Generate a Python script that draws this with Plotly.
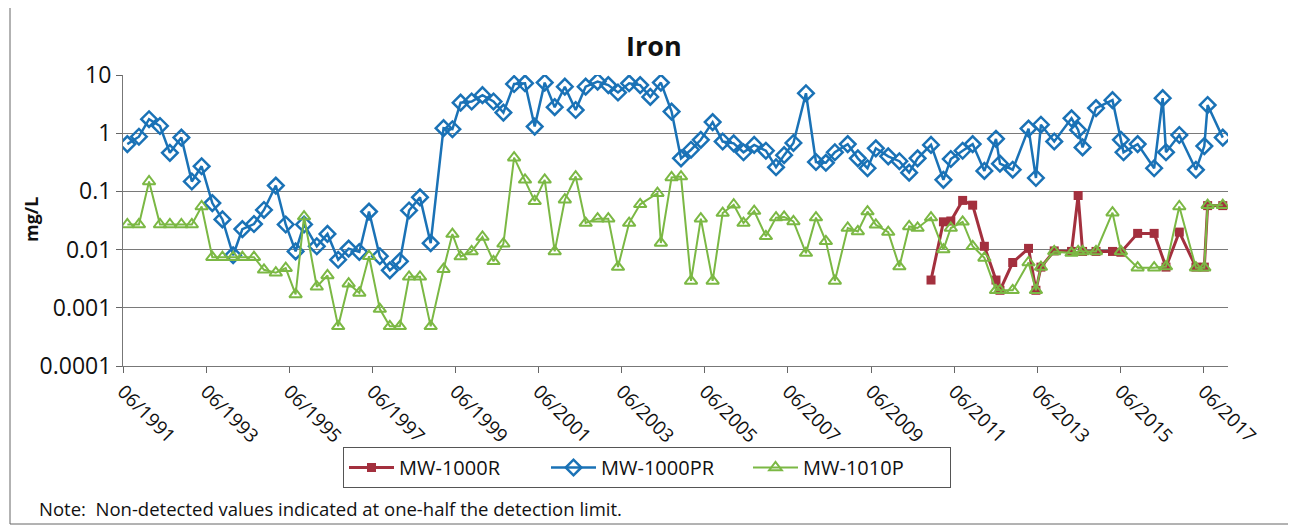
import plotly.graph_objects as go

# ---------------- data ----------------
pr_dates = [
    "1991-07-09", "1991-10-19", "1992-01-16", "1992-04-21", "1992-07-17", "1992-10-26", "1993-01-26", "1993-04-22", "1993-07-25", "1993-10-22",
    "1994-01-24", "1994-04-15", "1994-07-26", "1994-10-22", "1995-02-03", "1995-05-01", "1995-07-27", "1995-10-09", "1996-01-29", "1996-05-02",
    "1996-08-04", "1996-11-04", "1997-02-06", "1997-05-02", "1997-08-05", "1997-11-01", "1998-01-28", "1998-04-19", "1998-07-24", "1998-10-26",
    "1999-02-16", "1999-05-05", "1999-07-16", "1999-10-21", "2000-01-24", "2000-04-30", "2000-07-26", "2000-10-28", "2001-02-01", "2001-04-27",
    "2001-07-24", "2001-10-20", "2002-01-17", "2002-04-22", "2002-07-19", "2002-11-01", "2003-02-03", "2003-04-29", "2003-08-05", "2003-11-10",
    "2004-02-07", "2004-05-10", "2004-08-12", "2004-11-03", "2005-01-30", "2005-04-26", "2005-08-08", "2005-11-04", "2006-02-09", "2006-05-06",
    "2006-08-08", "2006-11-19", "2007-02-16", "2007-04-28", "2007-07-19", "2007-11-06", "2008-02-02", "2008-04-29", "2008-07-17", "2008-11-07",
    "2009-02-04", "2009-04-30", "2009-07-12", "2009-10-29", "2010-02-04", "2010-05-01", "2010-07-14", "2010-11-09", "2011-02-26", "2011-05-02",
    "2011-08-14", "2011-11-10", "2012-02-21", "2012-06-02", "2012-07-07", "2012-10-27", "2013-03-15", "2013-05-19", "2013-07-02", "2013-10-27",
    "2014-03-28", "2014-05-25", "2014-07-03", "2014-10-29", "2015-03-23", "2015-06-05", "2015-06-28", "2015-10-30", "2016-03-23", "2016-06-06",
    "2016-07-05", "2016-10-30", "2017-03-25", "2017-06-07", "2017-07-06", "2017-11-16",
]
pr_values = [
    0.65, 0.87, 1.74, 1.33, 0.46, 0.84, 0.148, 0.27, 0.063, 0.033,
    0.008, 0.0225, 0.0275, 0.048, 0.126, 0.027, 0.0093, 0.027, 0.0114, 0.0186,
    0.0067, 0.0104, 0.0091, 0.045, 0.0077, 0.0044, 0.0063, 0.047, 0.079, 0.0129,
    1.22, 1.17, 3.35, 3.5, 4.5, 3.5, 2.26, 7.0, 7.2, 1.3,
    7.4, 2.8, 6.3, 2.5, 6.3, 7.7, 6.7, 5.0, 7.2, 6.7,
    4.2, 7.4, 2.35, 0.37, 0.52, 0.77, 1.55, 0.72, 0.67, 0.47,
    0.63, 0.50, 0.26, 0.42, 0.68, 4.85, 0.32, 0.31, 0.47, 0.65,
    0.37, 0.25, 0.55, 0.40, 0.33, 0.21, 0.37, 0.63, 0.158, 0.36,
    0.50, 0.65, 0.225, 0.80, 0.30, 0.236, 1.2, 0.17, 1.4, 0.72,
    1.8, 1.14, 0.57, 2.7, 3.7, 0.77, 0.47, 0.65, 0.25, 4.0,
    0.47, 0.93, 0.235, 0.6, 3.05, 0.84,
]

p1010_dates = [
    "1991-07-09", "1991-10-19", "1992-01-16", "1992-04-21", "1992-07-17", "1992-10-26", "1993-01-26", "1993-04-22", "1993-07-25", "1993-10-22",
    "1994-01-24", "1994-04-15", "1994-07-26", "1994-10-22", "1995-02-03", "1995-05-01", "1995-07-27", "1995-10-09", "1996-01-29", "1996-05-02",
    "1996-08-04", "1996-11-04", "1997-02-06", "1997-05-02", "1997-08-05", "1997-11-01", "1998-01-28", "1998-04-19", "1998-07-24", "1998-10-26",
    "1999-02-16", "1999-05-05", "1999-07-16", "1999-10-21", "2000-01-24", "2000-04-30", "2000-07-26", "2000-10-28", "2001-02-01", "2001-04-27",
    "2001-07-24", "2001-10-20", "2002-01-17", "2002-04-22", "2002-07-19", "2002-11-01", "2003-02-03", "2003-04-29", "2003-08-05", "2003-11-10",
    "2004-04-10", "2004-05-10", "2004-08-12", "2004-11-03", "2005-01-30", "2005-04-26", "2005-08-08", "2005-11-04", "2006-02-09", "2006-05-06",
    "2006-08-08", "2006-11-19", "2007-02-16", "2007-04-28", "2007-07-19", "2007-11-06", "2008-02-02", "2008-04-29", "2008-07-17", "2008-11-07",
    "2009-02-04", "2009-04-30", "2009-07-12", "2009-10-29", "2010-02-04", "2010-05-01", "2010-07-14", "2010-11-09", "2011-02-26", "2011-05-02",
    "2011-08-14", "2011-11-10", "2012-02-21", "2012-06-02", "2012-07-07", "2012-10-27", "2013-03-15", "2013-05-19", "2013-07-02", "2013-10-27",
    "2014-03-28", "2014-05-25", "2014-07-03", "2014-10-29", "2015-03-23", "2015-06-05", "2015-10-30", "2016-03-23", "2016-07-05", "2016-10-30",
    "2017-03-25", "2017-06-07", "2017-07-06", "2017-11-16",
]
p1010_values = [
    0.027, 0.027, 0.148, 0.027, 0.027, 0.027, 0.027, 0.055, 0.0074, 0.0074,
    0.0074, 0.0074, 0.0074, 0.0045, 0.004, 0.0048, 0.0017, 0.037, 0.0023, 0.0036,
    0.00048, 0.0026, 0.0018, 0.0077, 0.00095, 0.00048, 0.00048, 0.0034, 0.0034, 0.00048,
    0.0046, 0.0185, 0.0076, 0.0093, 0.0165, 0.0063, 0.0126, 0.38, 0.158, 0.068,
    0.158, 0.0093, 0.072, 0.18, 0.0286, 0.034, 0.034, 0.005, 0.0286, 0.06,
    0.093, 0.013, 0.174, 0.18, 0.0029, 0.034, 0.0029, 0.0425, 0.059, 0.0286,
    0.046, 0.0169, 0.0355, 0.0364, 0.0305, 0.0087, 0.0355, 0.0139, 0.0029, 0.0235,
    0.0205, 0.045, 0.0267, 0.02, 0.0051, 0.025, 0.0235, 0.0355, 0.01, 0.0235,
    0.03, 0.0114, 0.0072, 0.002, 0.002, 0.002, 0.006, 0.002, 0.005, 0.0093,
    0.0087, 0.0093, 0.0093, 0.0093, 0.043, 0.0093, 0.0049, 0.0049, 0.0051, 0.055,
    0.0049, 0.0049, 0.058, 0.058,
]

r_dates = [
    "2010-11-09", "2011-02-26", "2011-05-02", "2011-08-14", "2011-11-10", "2012-02-21", "2012-06-02", "2012-07-07", "2012-10-27", "2013-03-15",
    "2013-05-19", "2013-07-02", "2013-10-27", "2014-03-28", "2014-05-25", "2014-07-03", "2014-10-29", "2015-03-23", "2015-06-05", "2015-10-30",
    "2016-03-23", "2016-07-05", "2016-10-30", "2017-03-25", "2017-06-07", "2017-07-06", "2017-11-16",
]
r_values = [
    0.003, 0.03, 0.031, 0.07, 0.058, 0.0114, 0.003, 0.002, 0.006, 0.0105,
    0.002, 0.005, 0.0095, 0.0093, 0.085, 0.0093, 0.0093, 0.0093, 0.009, 0.019,
    0.019, 0.005, 0.02, 0.005, 0.005, 0.057, 0.057,
]

series_names = ["MW-1000R", "MW-1000PR", "MW-1010P"]
x_tick_dates = ["1991-06-01", "1993-06-01", "1995-06-01", "1997-06-01", "1999-06-01", "2001-06-01", "2003-06-01",
                "2005-06-01", "2007-06-01", "2009-06-01", "2011-06-01", "2013-06-01", "2015-06-01", "2017-06-01"]
x_tick_labels = ["06/1991", "06/1993", "06/1995", "06/1997", "06/1999", "06/2001", "06/2003",
                 "06/2005", "06/2007", "06/2009", "06/2011", "06/2013", "06/2015", "06/2017"]
y_tick_vals = [10, 1, 0.1, 0.01, 0.001, 0.0001]
y_tick_labels = ["10", "1", "0.1", "0.01", "0.001", "0.0001"]

# ---------------- figure ----------------
FONT = "Open Sans"
RED = "#a3303e"
BLUE = "#1a72b6"
GREEN = "#7bb844"

fig = go.Figure()
fig.add_trace(go.Scatter(
    x=r_dates, y=r_values, name=series_names[0], mode="lines+markers",
    line=dict(color=RED, width=3),
    marker=dict(symbol="square", size=9, color=RED),
))
fig.add_trace(go.Scatter(
    x=pr_dates, y=pr_values, name=series_names[1], mode="lines+markers",
    line=dict(color=BLUE, width=2.5),
    marker=dict(symbol="diamond-open", size=12, color=BLUE, line=dict(width=2.5, color=BLUE)),
))
fig.add_trace(go.Scatter(
    x=p1010_dates, y=p1010_values, name=series_names[2], mode="lines+markers",
    line=dict(color=GREEN, width=2),
    marker=dict(symbol="triangle-up-open", size=11, color=GREEN, line=dict(width=2, color=GREEN)),
))

# page body has an 8px margin: lay out in reference pixel coords minus that offset
OFF = 8
W, H = 1296 - OFF, 529 - OFF
L = 123 - OFF
T = 75 - OFF
R = W - (1228 - OFF)
B = H - (366 - OFF)
pw, ph = W - L - R, H - T - B


def px_x(px):
    return (px - OFF - L) / pw


def px_y(py):
    return (H - B - (py - OFF)) / ph


fig.update_layout(
    width=W, height=H,
    margin=dict(l=L, r=R, t=T, b=B),
    paper_bgcolor="white", plot_bgcolor="white",
    font=dict(family=FONT, color="#111111"),
    showlegend=True,
    legend=dict(
        orientation="h", x=px_x(647), xanchor="center", y=px_y(447), yanchor="top",
        bordercolor="#555555", borderwidth=1, bgcolor="white",
        font=dict(size=20, family=FONT),
        itemwidth=45, entrywidth=142,
        traceorder="normal",
    ),
    xaxis=dict(
        type="date", range=["1991-06-01", "2018-01-01"],
        tickvals=x_tick_dates, ticktext=x_tick_labels, tickangle=45,
        ticks="outside", ticklen=6, tickcolor="#666666",
        showgrid=False, showline=True, linecolor="#777777", linewidth=1,
        tickfont=dict(size=19, family=FONT), zeroline=False,
    ),
    yaxis=dict(
        type="log", range=[-4, 1],
        tickvals=y_tick_vals, ticktext=y_tick_labels,
        ticks="outside", ticklen=6, tickcolor="#666666",
        showgrid=True, gridcolor="#7a7a7a", gridwidth=1,
        showline=True, linecolor="#777777", linewidth=1,
        tickfont=dict(size=23, family=FONT), zeroline=False,
    ),
)

fig.add_annotation(text="<b>Iron</b>", xref="paper", yref="paper", x=px_x(654), y=px_y(46),
                   showarrow=False, font=dict(size=27, family=FONT), xanchor="center", yanchor="middle")
fig.add_annotation(text="<b>mg/L</b>", xref="paper", yref="paper", x=px_x(31), y=px_y(220),
                   showarrow=False, textangle=-90, font=dict(size=18, family=FONT),
                   xanchor="center", yanchor="middle")
fig.add_annotation(text="Note:  Non-detected values indicated at one-half the detection limit.",
                   xref="paper", yref="paper", x=px_x(37), y=px_y(508), showarrow=False,
                   font=dict(size=18.5, family=FONT), xanchor="left", yanchor="middle")

# outer chart border
fig.add_shape(type="rect", xref="paper", yref="paper",
              x0=px_x(10), x1=px_x(1290), y0=px_y(524), y1=px_y(5),
              line=dict(color="#666666", width=1), layer="below")

fig.write_html("out.html")
